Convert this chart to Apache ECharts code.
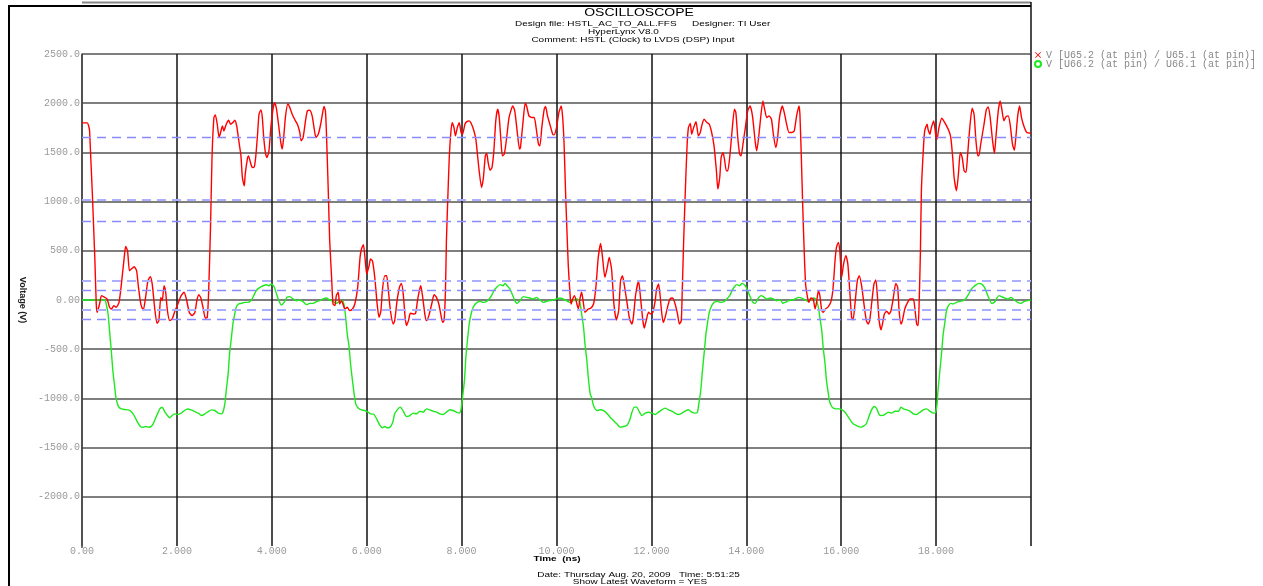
<!DOCTYPE html>
<html>
<head>
<meta charset="utf-8">
<script src="https://cdn.jsdelivr.net/npm/echarts@6/dist/echarts.min.js"></script>
<style>
html,body{margin:0;padding:0;background:#fff;}
#chart{width:1263px;height:586px;}
</style>
</head>
<body>
<div id="chart"></div>
<script>
// ---- data (time in ns, voltage in mV) ----
const redName = 'V [U65.2 (at pin) / U65.1 (at pin)]';
const greenName = 'V [U66.2 (at pin) / U66.1 (at pin)]';

const redTime = [0,0.11,0.16,0.27,0.30,0.32,0.37,0.41,0.48,0.53,0.58,0.62,0.67,0.72,0.78,0.83,0.89,0.92,0.96,1.00,1.04,1.10,1.15,1.19,1.24,1.29,1.34,1.39,1.44,1.48,1.53,1.58,1.62,1.66,1.69,1.73,1.76,1.80,1.85,1.90,1.95,2.02,2.09,2.15,2.20,2.26,2.32,2.38,2.42,2.46,2.50,2.55,2.60,2.64,2.67,2.71,2.74,2.78,2.81,2.85,2.89,2.92,2.96,2.99,3.04,3.09,3.13,3.18,3.22,3.26,3.30,3.35,3.38,3.42,3.44,3.49,3.51,3.55,3.59,3.63,3.66,3.70,3.73,3.77,3.80,3.83,3.87,3.90,3.94,3.98,4.03,4.06,4.10,4.15,4.19,4.22,4.25,4.29,4.34,4.38,4.43,4.48,4.54,4.59,4.62,4.66,4.71,4.75,4.80,4.85,4.89,4.93,4.98,5.03,5.06,5.10,5.13,5.15,5.19,5.22,5.26,5.29,5.33,5.36,5.40,5.43,5.47,5.50,5.54,5.59,5.64,5.70,5.75,5.81,5.86,5.89,5.93,5.96,6.00,6.05,6.08,6.12,6.17,6.22,6.26,6.30,6.33,6.38,6.42,6.45,6.50,6.56,6.59,6.64,6.69,6.73,6.77,6.81,6.84,6.88,6.92,6.98,7.03,7.07,7.11,7.14,7.18,7.23,7.26,7.31,7.37,7.42,7.47,7.52,7.56,7.60,7.63,7.66,7.68,7.71,7.74,7.77,7.80,7.84,7.87,7.91,7.95,7.99,8.02,8.07,8.11,8.16,8.21,8.26,8.30,8.33,8.37,8.42,8.46,8.50,8.53,8.56,8.60,8.64,8.68,8.72,8.76,8.79,8.83,8.86,8.90,8.95,9.00,9.08,9.12,9.17,9.22,9.24,9.29,9.34,9.37,9.42,9.48,9.53,9.57,9.62,9.65,9.69,9.74,9.77,9.81,9.86,9.92,9.95,10.00,10.05,10.10,10.13,10.16,10.19,10.22,10.25,10.29,10.31,10.34,10.38,10.43,10.46,10.50,10.53,10.57,10.60,10.67,10.72,10.78,10.83,10.88,10.93,10.97,11.02,11.07,11.11,11.16,11.21,11.26,11.31,11.35,11.39,11.42,11.48,11.54,11.59,11.62,11.67,11.73,11.77,11.82,11.85,11.89,11.94,11.99,12.03,12.08,12.11,12.15,12.18,12.22,12.25,12.29,12.34,12.39,12.45,12.50,12.55,12.59,12.63,12.65,12.68,12.71,12.75,12.78,12.82,12.85,12.89,12.94,12.99,13.03,13.06,13.11,13.17,13.22,13.27,13.32,13.37,13.40,13.44,13.47,13.51,13.54,13.58,13.61,13.65,13.70,13.75,13.78,13.82,13.86,13.89,13.93,13.98,14.03,14.08,14.13,14.19,14.22,14.26,14.31,14.35,14.38,14.43,14.48,14.53,14.57,14.62,14.66,14.70,14.76,14.80,14.85,14.90,14.96,15.01,15.06,15.11,15.13,15.16,15.19,15.22,15.25,15.29,15.32,15.36,15.41,15.45,15.48,15.52,15.55,15.59,15.62,15.67,15.73,15.79,15.83,15.87,15.90,15.94,15.97,16.01,16.05,16.10,16.14,16.18,16.22,16.25,16.29,16.34,16.38,16.43,16.48,16.53,16.57,16.60,16.64,16.69,16.73,16.76,16.80,16.84,16.87,16.91,16.96,17.01,17.05,17.10,17.15,17.19,17.22,17.26,17.29,17.34,17.40,17.45,17.52,17.55,17.59,17.62,17.64,17.67,17.69,17.73,17.76,17.81,17.83,17.87,17.90,17.95,17.99,18.02,18.06,18.12,18.17,18.22,18.27,18.31,18.35,18.38,18.43,18.47,18.51,18.55,18.59,18.63,18.66,18.71,18.76,18.80,18.84,18.88,18.90,18.94,19.01,19.06,19.10,19.14,19.19,19.23,19.26,19.31,19.35,19.38,19.43,19.47,19.52,19.56,19.61,19.65,19.68,19.72,19.76,19.80,19.86,19.91,20.00];
const redVolt = [1800,1800,1720,430,-40,-125,-41,44,27,10,-74,-91,-57,-74,-24,162,433,545,500,298,315,338,298,129,-41,-108,27,196,237,162,-74,-237,-210,27,-7,145,95,-108,-210,-193,-125,-41,44,78,10,-125,-159,-125,-7,54,27,-74,-186,-176,95,771,1448,1854,1881,1786,1651,1702,1769,1718,1786,1827,1786,1803,1827,1769,1634,1465,1245,1160,1279,1448,1465,1397,1346,1353,1448,1685,1888,1932,1854,1651,1482,1448,1516,1752,1955,2006,1938,1752,1600,1533,1651,1871,1996,1955,1888,1837,1786,1702,1617,1651,1820,1922,1928,1871,1752,1651,1685,1786,1871,1966,1922,1719,1110,602,230,-41,-57,44,78,-41,-7,-41,-91,-74,-108,-91,-41,129,433,518,562,450,264,348,416,399,230,-41,-176,-108,95,247,247,129,-108,-244,-210,-7,129,169,61,-176,-260,-210,-135,-142,-135,-7,95,145,27,-159,-210,-159,-41,54,27,-41,-142,-227,-210,95,602,1042,1448,1685,1803,1752,1668,1752,1803,1702,1685,1786,1813,1820,1786,1718,1634,1499,1313,1143,1245,1465,1489,1397,1319,1346,1516,1820,1938,1871,1617,1465,1482,1651,1854,1972,1922,1719,1533,1549,1786,1999,1972,1871,1854,1854,1752,1583,1566,1752,1938,1966,1871,1786,1685,1678,1752,1905,1972,1854,1583,1110,704,332,27,-41,10,44,-41,-91,27,78,-41,-125,-91,-85,-41,129,433,575,433,230,332,433,315,-41,-203,-108,196,247,179,-7,-193,-244,-176,61,190,27,-210,-284,-210,-125,-142,-125,-7,112,162,61,-142,-227,-176,-74,10,20,-41,-142,-244,-210,95,602,1042,1549,1752,1793,1685,1752,1813,1668,1702,1769,1837,1803,1786,1702,1566,1313,1127,1245,1448,1499,1431,1313,1313,1448,1719,1938,1905,1651,1482,1465,1583,1752,1922,1972,1871,1600,1516,1651,1888,2023,1955,1854,1871,1837,1685,1549,1651,1854,1972,1905,1786,1702,1702,1719,1871,1972,1888,1448,940,501,162,27,-24,20,10,-91,-24,95,44,-108,-125,-91,-68,-7,129,399,535,585,501,230,365,450,365,95,-176,-203,-41,196,247,145,-41,-210,-244,-210,-41,162,203,61,-210,-304,-244,-142,-115,-142,-108,27,169,129,-108,-244,-210,-91,-24,10,10,-74,-244,-260,-74,501,1110,1516,1719,1786,1735,1685,1752,1820,1685,1634,1752,1847,1813,1769,1719,1651,1448,1245,1110,1279,1499,1448,1313,1296,1448,1752,1949,1888,1617,1465,1465,1583,1786,1938,1962,1854,1617,1489,1651,1922,2023,1955,1820,1861,1871,1786,1583,1522,1651,1871,1972,1854,1752,1702,1695];

const greenTime = [0,0.48,0.51,0.55,0.58,0.62,0.65,0.69,0.72,0.77,0.83,0.90,0.98,1.05,1.11,1.17,1.23,1.29,1.34,1.41,1.48,1.53,1.59,1.64,1.69,1.74,1.80,1.85,1.90,1.95,2.02,2.09,2.16,2.23,2.30,2.38,2.45,2.52,2.59,2.66,2.73,2.80,2.87,2.94,2.97,3.01,3.04,3.08,3.11,3.15,3.18,3.22,3.25,3.30,3.36,3.43,3.50,3.57,3.62,3.67,3.75,3.82,3.89,3.94,3.99,4.05,4.10,4.15,4.20,4.26,4.32,4.38,4.45,4.52,4.59,4.66,4.73,4.80,4.87,4.94,5.01,5.08,5.15,5.22,5.29,5.36,5.43,5.49,5.52,5.55,5.59,5.63,5.66,5.70,5.74,5.77,5.82,5.89,5.96,6.03,6.10,6.14,6.21,6.28,6.33,6.38,6.43,6.49,6.55,6.59,6.66,6.71,6.77,6.84,6.91,6.98,7.05,7.12,7.19,7.26,7.33,7.40,7.47,7.54,7.61,7.68,7.75,7.82,7.89,7.95,7.99,8.02,8.06,8.09,8.13,8.16,8.20,8.25,8.32,8.39,8.46,8.53,8.58,8.63,8.68,8.74,8.81,8.87,8.92,8.96,9.02,9.08,9.13,9.17,9.23,9.30,9.37,9.44,9.51,9.58,9.65,9.72,9.79,9.86,9.93,10.00,10.07,10.14,10.21,10.28,10.35,10.43,10.46,10.50,10.53,10.57,10.60,10.64,10.67,10.71,10.74,10.78,10.85,10.92,10.99,11.06,11.13,11.20,11.27,11.34,11.41,11.48,11.54,11.59,11.64,11.69,11.75,11.80,11.87,11.94,12.01,12.08,12.15,12.22,12.29,12.36,12.43,12.50,12.57,12.64,12.71,12.78,12.85,12.92,12.97,13.00,13.04,13.07,13.11,13.15,13.19,13.22,13.27,13.32,13.39,13.46,13.54,13.59,13.65,13.70,13.75,13.80,13.86,13.91,13.98,14.03,14.08,14.14,14.19,14.24,14.31,14.36,14.43,14.50,14.57,14.64,14.72,14.77,14.82,14.89,14.96,15.03,15.10,15.17,15.24,15.31,15.37,15.43,15.48,15.52,15.55,15.59,15.62,15.66,15.69,15.73,15.76,15.81,15.88,15.95,16.02,16.08,16.13,16.19,16.25,16.32,16.37,16.43,16.49,16.53,16.58,16.64,16.70,16.75,16.80,16.85,16.92,16.99,17.06,17.13,17.21,17.26,17.31,17.38,17.45,17.52,17.59,17.66,17.73,17.80,17.87,17.94,17.99,18.02,18.04,18.08,18.12,18.15,18.19,18.22,18.26,18.31,18.36,18.43,18.50,18.57,18.62,18.68,18.73,18.79,18.85,18.90,18.96,19.02,19.07,19.12,19.17,19.23,19.28,19.33,19.38,19.45,19.52,19.58,19.65,19.72,19.79,19.86,19.93,20.00];
const greenVolt = [0,0,-41,-142,-311,-531,-717,-887,-1005,-1083,-1107,-1113,-1117,-1140,-1184,-1242,-1286,-1293,-1286,-1293,-1276,-1225,-1157,-1107,-1090,-1131,-1174,-1198,-1174,-1157,-1164,-1150,-1123,-1107,-1117,-1134,-1150,-1174,-1157,-1134,-1117,-1123,-1150,-1157,-1140,-1056,-920,-751,-548,-379,-244,-142,-74,-41,-34,-24,-24,0,44,94,128,145,155,145,162,135,61,-7,-51,-24,27,34,10,-7,0,-17,-47,-34,-34,-17,-7,10,20,0,-14,-34,-14,-7,-41,-142,-345,-481,-650,-819,-971,-1056,-1097,-1117,-1123,-1140,-1160,-1160,-1208,-1275,-1299,-1286,-1299,-1292,-1242,-1157,-1106,-1089,-1130,-1184,-1174,-1150,-1157,-1130,-1140,-1106,-1116,-1130,-1140,-1157,-1164,-1140,-1116,-1123,-1140,-1150,-1106,-988,-819,-582,-379,-244,-142,-68,-27,-14,-24,-14,10,44,95,129,156,145,169,145,112,44,-14,-34,-7,34,27,20,10,27,0,-24,-14,-7,0,10,20,10,-7,-24,-7,10,0,-41,-142,-277,-447,-616,-785,-954,-990,-1072,-1123,-1116,-1123,-1150,-1191,-1225,-1258,-1292,-1286,-1275,-1225,-1140,-1089,-1089,-1140,-1174,-1150,-1140,-1150,-1164,-1140,-1116,-1099,-1116,-1130,-1150,-1164,-1150,-1130,-1116,-1140,-1150,-1140,-1055,-920,-751,-548,-345,-210,-125,-58,-24,-14,-24,-14,10,44,95,135,156,145,169,145,95,34,-24,-34,10,44,34,10,20,10,-7,0,-34,-24,-7,0,10,27,20,0,-14,10,20,-7,-74,-176,-311,-480,-650,-819,-954,-1039,-1089,-1106,-1106,-1116,-1140,-1174,-1218,-1258,-1275,-1286,-1292,-1275,-1258,-1191,-1116,-1083,-1106,-1164,-1174,-1164,-1140,-1150,-1130,-1130,-1089,-1106,-1116,-1130,-1157,-1164,-1140,-1116,-1106,-1130,-1150,-1140,-1055,-920,-717,-514,-345,-210,-108,-58,-34,-41,-24,-14,-7,10,54,101,135,156,169,162,129,68,10,-34,-24,20,44,34,20,10,27,0,-24,-34,-14,-7,0];

// dashed threshold levels (mV)
const thresholdsThin = [1650, 800, 100, -200];
const thresholdsWide = [1020, 200, -100];

// axis settings
const yMin = -2500, yMax = 2500, yStep = 500;
const xMin = 0, xMax = 20, xStep = 2;

const zip = (t, v) => t.map((x, i) => [x, v[i]]);

const monoFont = '"Liberation Mono", "DejaVu Sans Mono", monospace';
const sansFont = '"Liberation Sans", Arial, sans-serif';

function yLabel(v) {
  if (v === yMin) return '';
  if (v === 0) return '0.00';
  return v.toFixed(1);
}
function xLabel(v) {
  if (v === xMax) return '';
  if (v === 0) return '0.00';
  return v.toFixed(3);
}

const ySplitColors = [];
for (let v = yMin; v <= yMax; v += yStep) ySplitColors.push(v === yMin ? 'rgba(0,0,0,0)' : '#555');

function txt(text, x, y, font, align, sy) {
  return {
    type: 'text', x: x, y: y, scaleY: sy, silent: true,
    style: { text: text, font: font, fill: '#000', textAlign: align, textVerticalAlign: 'middle', align: align, verticalAlign: 'middle' }
  };
}

const chart = echarts.init(document.getElementById('chart'), null, { renderer: 'canvas' });

const option = {
  animation: false,
  backgroundColor: '#fff',
  grid: { left: 82, right: 232, top: 54, bottom: 40, containLabel: false },
  legend: {
    data: [
      { name: redName, icon: 'path://M0,1L1,0L5,4L9,0L10,1L6,5L10,9L9,10L5,6L1,10L0,9L4,5Z' },
      { name: greenName, icon: 'emptyCircle' }
    ],
    orient: 'vertical', left: 1034, top: 50, padding: 0,
    itemWidth: 6, itemHeight: 6, itemGap: -1,
    textStyle: { fontFamily: monoFont, fontSize: 10, color: '#888' }
  },
  xAxis: {
    type: 'value', min: xMin, max: xMax, interval: xStep,
    axisLine: { show: false }, axisTick: { show: false },
    axisLabel: { formatter: xLabel, fontFamily: monoFont, fontSize: 10, color: '#999', margin: 0 },
    splitLine: { show: true, lineStyle: { color: '#111', width: 1.5 } }
  },
  yAxis: {
    type: 'value', min: yMin, max: yMax, interval: yStep,
    name: 'Voltage (V)', nameLocation: 'middle', nameRotate: -90, nameGap: 55,
    nameTextStyle: { fontFamily: sansFont, fontSize: 9, fontWeight: 'bold', color: '#222' },
    axisLine: { show: true, lineStyle: { color: '#555', width: 1.5 } },
    axisTick: { show: false },
    axisLabel: { formatter: yLabel, fontFamily: monoFont, fontSize: 10, color: '#999', margin: 2 },
    splitLine: { show: true, lineStyle: { color: ySplitColors, width: 1.5 } }
  },
  series: [
    {
      name: 'thin thresholds', type: 'line', data: [], z: 1, silent: true,
      markLine: {
        silent: true, symbol: 'none', label: { show: false }, animation: false,
        lineStyle: { color: '#8a8aff', type: [9, 6], width: 1.3 },
        data: thresholdsThin.map(v => ({ yAxis: v }))
      }
    },
    {
      name: 'wide thresholds', type: 'line', data: [], z: 1, silent: true,
      markLine: {
        silent: true, symbol: 'none', label: { show: false }, animation: false,
        lineStyle: { color: '#aab0ff', type: [9, 6], width: 2.2 },
        data: thresholdsWide.map(v => ({ yAxis: v }))
      }
    },
    {
      name: greenName, type: 'line', data: zip(greenTime, greenVolt), z: 3,
      showSymbol: false, smooth: 0.2, color: '#1ee81e',
      lineStyle: { color: '#1ee81e', width: 1.4 }
    },
    {
      name: redName, type: 'line', data: zip(redTime, redVolt), z: 4,
      showSymbol: false, smooth: 0.2, color: '#ff0000',
      lineStyle: { color: '#ff0000', width: 1.4 }
    }
  ],
  graphic: [
    { type: 'line', silent: true, shape: { x1: 9, y1: 6, x2: 9, y2: 586 }, style: { stroke: '#000', lineWidth: 2 } },
    { type: 'line', silent: true, shape: { x1: 8, y1: 6, x2: 1031, y2: 6 }, style: { stroke: '#000', lineWidth: 2 } },
    { type: 'line', silent: true, shape: { x1: 82, y1: 2.5, x2: 1031, y2: 2.5 }, style: { stroke: '#888', lineWidth: 2 } },
    { type: 'line', silent: true, shape: { x1: 1031, y1: 2, x2: 1031, y2: 54 }, style: { stroke: '#111', lineWidth: 1.5 } },
    { type: 'line', silent: true, shape: { x1: 82, y1: 546, x2: 82, y2: 548 }, style: { stroke: '#555', lineWidth: 1.5 } },
    txt('OSCILLOSCOPE', 639, 13.3, '14px ' + sansFont, 'center', 0.73),
    txt('Design file: HSTL_AC_TO_ALL.FFS', 515, 24.5, '10px ' + sansFont, 'left', 0.72),
    txt('Designer: TI User', 692, 24.5, '10px ' + sansFont, 'left', 0.72),
    txt('HyperLynx V8.0', 623.5, 32, '10px ' + sansFont, 'center', 0.72),
    txt('Comment: HSTL (Clock) to LVDS (DSP) Input', 633, 40, '10px ' + sansFont, 'center', 0.72),
    txt('Time  (ns)', 557, 559, 'bold 10px ' + sansFont, 'center', 0.72),
    txt('Date: Thursday Aug. 20, 2009   Time: 5:51:25', 638.5, 575, '10px ' + sansFont, 'center', 0.72),
    txt('Show Latest Waveform = YES', 640, 582.5, '10px ' + sansFont, 'center', 0.72)
  ]
};
chart.setOption(option);
</script>
</body>
</html>
